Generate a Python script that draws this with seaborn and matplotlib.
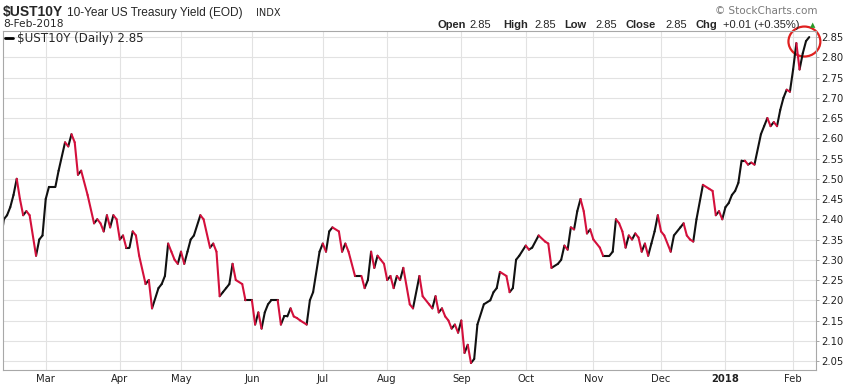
import numpy as np
import pandas as pd
import matplotlib
matplotlib.use('Agg')
import matplotlib.pyplot as plt
import seaborn as sns
from matplotlib.patches import Ellipse
from matplotlib.lines import Line2D

# trading day number (0 = 8-Feb-2017) and yield at each turning point of the line
day = [0, 1, 2, 3, 4, 5, 6, 7, 8, 9, 11, 12, 13, 14, 15, 17, 18, 20, 21, 22,
       23, 24, 25, 27, 29, 30, 31, 32, 33, 34, 35, 36, 37, 38, 39, 40, 41, 42, 43, 45,
       46, 47, 49, 50, 51, 52, 53, 54, 55, 56, 57, 58, 59, 60, 62, 63, 65, 66, 67, 68,
       69, 70, 71, 72, 73, 75, 76, 78, 79, 80, 81, 82, 83, 84, 86, 87, 88, 89, 90, 91,
       92, 93, 95, 96, 97, 99, 100, 101, 102, 103, 105, 106, 107, 108, 110, 112, 113, 114, 115, 116,
       117, 118, 119, 120, 121, 122, 123, 124, 125, 127, 128, 130, 131, 133, 134, 135, 136, 137, 138, 139,
       140, 141, 142, 143, 144, 145, 146, 147, 148, 150, 152, 153, 154, 155, 157, 158, 159, 160, 161, 163,
       164, 165, 167, 169, 170, 171, 173, 174, 175, 176, 177, 178, 179, 180, 181, 182, 183, 184, 186, 187,
       189, 190, 191, 192, 193, 194, 195, 196, 197, 198, 199, 200, 201, 202, 203, 204, 205, 206, 208, 209,
       211, 212, 213, 214, 215, 216, 218, 220, 221, 222, 223, 224, 225, 226, 227, 228, 229, 230, 231, 232,
       233, 234, 236, 237, 238, 239, 240, 241, 242, 243, 244, 245, 246, 247, 248, 249, 250, 251]
yld = [2.34, 2.40, 2.41, 2.43, 2.46, 2.50, 2.45, 2.41, 2.42, 2.41, 2.31, 2.35, 2.36, 2.45, 2.48, 2.48, 2.52, 2.59, 2.58, 2.61,
       2.59, 2.51, 2.52, 2.46, 2.39, 2.40, 2.39, 2.37, 2.41, 2.38, 2.41, 2.40, 2.35, 2.36, 2.33, 2.33, 2.37, 2.36, 2.31, 2.24,
       2.25, 2.18, 2.23, 2.24, 2.26, 2.34, 2.32, 2.30, 2.29, 2.32, 2.29, 2.32, 2.35, 2.36, 2.41, 2.40, 2.33, 2.34, 2.32, 2.21,
       2.22, 2.23, 2.24, 2.29, 2.25, 2.24, 2.20, 2.20, 2.14, 2.17, 2.13, 2.17, 2.19, 2.20, 2.20, 2.14, 2.16, 2.16, 2.18, 2.16,
       2.156, 2.15, 2.14, 2.20, 2.22, 2.32, 2.34, 2.32, 2.37, 2.38, 2.37, 2.32, 2.34, 2.32, 2.26, 2.26, 2.23, 2.25, 2.32, 2.28,
       2.31, 2.30, 2.29, 2.25, 2.26, 2.23, 2.26, 2.25, 2.28, 2.19, 2.18, 2.26, 2.21, 2.19, 2.18, 2.21, 2.17, 2.18, 2.16, 2.15,
       2.13, 2.14, 2.12, 2.15, 2.07, 2.09, 2.045, 2.055, 2.14, 2.19, 2.20, 2.22, 2.23, 2.27, 2.26, 2.22, 2.23, 2.30, 2.31, 2.335,
       2.325, 2.33, 2.36, 2.345, 2.34, 2.28, 2.29, 2.30, 2.335, 2.325, 2.38, 2.375, 2.42, 2.45, 2.42, 2.365, 2.375, 2.35, 2.33, 2.31,
       2.31, 2.32, 2.40, 2.39, 2.37, 2.33, 2.36, 2.35, 2.365, 2.355, 2.32, 2.34, 2.31, 2.34, 2.37, 2.41, 2.37, 2.36, 2.32, 2.36,
       2.38, 2.39, 2.36, 2.35, 2.345, 2.40, 2.485, 2.475, 2.47, 2.41, 2.42, 2.40, 2.43, 2.44, 2.46, 2.47, 2.49, 2.545, 2.545, 2.535,
       2.54, 2.535, 2.61, 2.63, 2.65, 2.63, 2.64, 2.63, 2.67, 2.70, 2.72, 2.715, 2.77, 2.835, 2.77, 2.81, 2.84, 2.85]

holidays = ['2017-02-20', '2017-04-14', '2017-05-29', '2017-07-04', '2017-09-04', '2017-10-09',
            '2017-11-23', '2017-12-25', '2018-01-01', '2018-01-15']
month_labels = ['Mar', 'Apr', 'May', 'Jun', 'Jul', 'Aug', 'Sep', 'Oct', 'Nov', 'Dec', '2018', 'Feb']
yticks = np.round(np.arange(2.05, 2.851, 0.05), 2)

# trading calendar -> position of first session of each month
cal = pd.bdate_range('2017-02-08', '2018-02-08', freq='C', holidays=holidays)
month_pos = [i for i in range(1, len(cal)) if cal[i].month != cal[i - 1].month]

rows = []
for i in range(len(day) - 1):
    d = 'up' if yld[i + 1] >= yld[i] else 'down'
    rows.append((i, day[i], yld[i], d))
    rows.append((i, day[i + 1], yld[i + 1], d))
seg = pd.DataFrame(rows, columns=['seg', 'day', 'yield', 'dir'])

sns.set_theme(style='white')
plt.rcParams['font.family'] = ['DejaVu Sans']

W, H = 843, 385
fig = plt.figure(figsize=(W / 100, H / 100), dpi=100)
ax = fig.add_axes([3 / W, 1 - 369.5 / H, (816 - 3) / W, (369.5 - 31) / H])

sns.lineplot(data=seg, x='day', y='yield', hue='dir', units='seg', estimator=None,
             palette={'up': '#111111', 'down': '#d4103c'}, lw=1.5, legend=False,
             sort=False, ax=ax, solid_capstyle='round')

ax.set_xlim(0.74, 253.1)
ax.set_ylim(2.029, 2.865)
ax.set_xticks(month_pos)
ax.set_xticklabels(month_labels)
for lbl in ax.get_xticklabels():
    if lbl.get_text() == '2018':
        lbl.set_fontweight('bold')
        lbl.set_fontsize(7.5)
ax.set_yticks(yticks)
ax.set_yticklabels([f'{v:.2f}' for v in yticks])
ax.yaxis.tick_right()
ax.tick_params(axis='x', length=0, pad=3.5, labelsize=7.2, colors='#222222')
ax.tick_params(axis='y', length=2.5, width=0.6, pad=1.5, labelsize=7.2, color='#999999',
               labelcolor='#222222')
ax.grid(True, color='#e2e2e2', lw=0.8)
ax.set_xlabel('')
ax.set_ylabel('')
for s in ax.spines.values():
    s.set_color('#a8a8a8')
    s.set_linewidth(0.8)

# red circle around the latest close
ax.add_patch(Ellipse((249.5, 2.839), 9.9, 0.074, fill=False, ec='#e0201f', lw=1.6, clip_on=False))


def ftext(x, y, s, **kw):
    fig.text(x / W, 1 - y / H, s, ha='left', va='baseline', **kw)


last = yld[-1]
chg = yld[-1] - yld[-2]
ftext(3, 16, r'\$UST10Y', fontsize=10, weight='bold', family='Liberation Sans')
ftext(67, 16, '10-Year US Treasury Yield (EOD)', fontsize=8.6, family='Liberation Sans')
ftext(256, 16, 'INDX', fontsize=7)
ftext(3, 27, '8-Feb-2018', fontsize=7.7)
fig.add_artist(Line2D([5 / W, 13 / W], [1 - 37.5 / H] * 2, color='black', lw=2))
ftext(17, 42, rf'\$UST10Y (Daily) {last:.2f}', fontsize=8.6)
ftext(715, 14, '© StockCharts.com', fontsize=7.5, color='#7a7a7a')

bar = [(437, 'Open', True), (469, f'{last:.2f}', False), (503, 'High', True), (534, f'{last:.2f}', False),
       (564, 'Low', True), (595, f'{last:.2f}', False), (625, 'Close', True), (665, f'{last:.2f}', False),
       (695, 'Chg', True), (723, f'+{chg:.2f} (+{chg / yld[-2] * 100:.2f}%)', False)]
for x, s, b in bar:
    ftext(x, 28, s, fontsize=8, family='Liberation Sans', weight='bold' if b else 'normal')
ftext(810, 27, '▲', fontsize=5, color='#2a9a2a')

fig.savefig('out.png', dpi=100)
